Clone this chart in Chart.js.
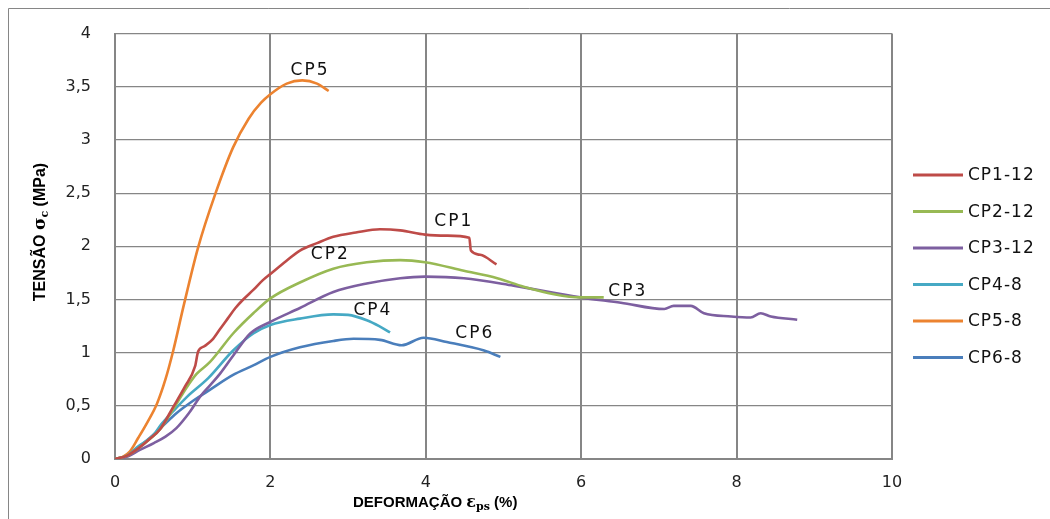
<!DOCTYPE html>
<html>
<head>
<meta charset="utf-8">
<script src="https://cdn.jsdelivr.net/npm/chart.js@4/dist/chart.umd.min.js"></script>
<style>
  html, body { margin: 0; padding: 0; background: #fff; }
  #wrap { width: 1050px; height: 519px; }
</style>
</head>
<body>
<div id="wrap"><canvas id="tensionChart"></canvas></div>
<script>
// Séries: deformação (%) e tensão (MPa)
const seriesNames = ['CP1-12', 'CP2-12', 'CP3-12', 'CP4-8', 'CP5-8', 'CP6-8'];

const cp1X = [0, 0.15, 0.3, 0.45, 0.58, 0.75, 0.9, 1.03, 1.07, 1.15, 1.25, 1.35, 1.45, 1.55, 1.65, 1.78, 1.9, 2.0, 2.2, 2.38, 2.6, 2.81, 3.1, 3.41, 3.67, 3.99, 4.27, 4.56, 4.58, 4.7, 4.91];
const cp1Y = [0, 0.03, 0.1, 0.19, 0.28, 0.49, 0.68, 0.87, 1.01, 1.06, 1.12, 1.22, 1.32, 1.42, 1.5, 1.59, 1.68, 1.74, 1.86, 1.96, 2.03, 2.09, 2.13, 2.16, 2.15, 2.11, 2.1, 2.08, 1.96, 1.92, 1.83];

const cp2X = [0, 0.15, 0.3, 0.45, 0.58, 0.75, 0.92, 1.05, 1.22, 1.52, 1.78, 2.0, 2.38, 2.81, 3.24, 3.67, 3.99, 4.49, 4.92, 5.26, 5.65, 5.99, 6.29];
const cp2Y = [0, 0.03, 0.1, 0.19, 0.28, 0.47, 0.67, 0.8, 0.91, 1.18, 1.37, 1.51, 1.66, 1.79, 1.85, 1.87, 1.85, 1.77, 1.7, 1.62, 1.55, 1.52, 1.52];

const cp3X = [0, 0.15, 0.32, 0.5, 0.65, 0.79, 0.95, 1.1, 1.22, 1.35, 1.52, 1.74, 2.0, 2.38, 2.81, 3.24, 3.67, 3.99, 4.49, 5.13, 5.99, 6.51, 7.07, 7.19, 7.41, 7.58, 7.93, 8.18, 8.31, 8.44, 8.78];
const cp3Y = [0, 0.02, 0.085, 0.15, 0.21, 0.29, 0.43, 0.59, 0.69, 0.8, 0.97, 1.18, 1.29, 1.42, 1.57, 1.65, 1.7, 1.715, 1.7, 1.63, 1.52, 1.47, 1.41, 1.44, 1.44, 1.37, 1.34, 1.33, 1.37, 1.34, 1.31];

const cp4X = [0, 0.15, 0.3, 0.49, 0.6, 0.75, 0.92, 1.2, 1.52, 1.78, 2.0, 2.38, 2.81, 3.0, 3.24, 3.4, 3.54];
const cp4Y = [0, 0.03, 0.12, 0.22, 0.33, 0.45, 0.58, 0.76, 1.02, 1.18, 1.26, 1.32, 1.36, 1.355, 1.305, 1.25, 1.19];

const cp5X = [0, 0.1, 0.19, 0.3, 0.42, 0.54, 0.65, 0.75, 0.88, 1.07, 1.29, 1.52, 1.72, 1.88, 2.0, 2.21, 2.41, 2.6, 2.75];
const cp5Y = [0, 0.02, 0.07, 0.2, 0.35, 0.52, 0.75, 1.02, 1.43, 1.99, 2.49, 2.93, 3.2, 3.35, 3.43, 3.53, 3.56, 3.53, 3.46];

const cp6X = [0, 0.15, 0.3, 0.45, 0.6, 0.79, 1.01, 1.22, 1.52, 1.78, 2.0, 2.38, 2.81, 3.07, 3.41, 3.69, 3.97, 4.27, 4.75, 4.96];
const cp6Y = [0, 0.03, 0.11, 0.2, 0.3, 0.43, 0.55, 0.65, 0.79, 0.88, 0.96, 1.05, 1.11, 1.13, 1.12, 1.07, 1.14, 1.1, 1.02, 0.96];

const xTickLabels = ['0', '2', '4', '6', '8', '10'];
const yTickLabels = ['0', '0,5', '1', '1,5', '2', '2,5', '3', '3,5', '4'];

// Rótulos no gráfico (posição em coordenadas dos dados)
const curveLabels = ['CP1', 'CP2', 'CP3', 'CP4', 'CP5', 'CP6'];
const curveLabelX = [4.36, 2.77, 6.6, 3.32, 2.51, 4.63];
const curveLabelY = [2.23, 1.92, 1.57, 1.4, 3.65, 1.18];

const colors = ['#BE4B48', '#98B954', '#7D5FA0', '#46A9C4', '#EC8330', '#4A7EBB'];

const xs = [cp1X, cp2X, cp3X, cp4X, cp5X, cp6X];
const ys = [cp1Y, cp2Y, cp3Y, cp4Y, cp5Y, cp6Y];

const datasets = seriesNames.map((name, i) => ({
  label: name,
  data: xs[i].map((x, j) => ({ x: x, y: ys[i][j] })),
  borderColor: colors[i],
  backgroundColor: colors[i],
  borderWidth: 2.6,
  pointRadius: 0,
  showLine: true,
  cubicInterpolationMode: 'monotone',
  fill: false,
}));

const GRAY = '#868686';

const extras = {
  id: 'extras',
  beforeDraw(chart) {
    const ctx = chart.ctx;
    ctx.save();
    ctx.strokeStyle = GRAY;
    ctx.lineWidth = 1;
    ctx.beginPath();
    ctx.moveTo(8.5, 519);
    ctx.lineTo(8.5, 8.5);
    ctx.lineTo(1050, 8.5);
    ctx.stroke();
    ctx.restore();
  },
  afterDraw(chart) {
    const ctx = chart.ctx;
    const sx = chart.scales.x, sy = chart.scales.y;
    ctx.save();
    ctx.fillStyle = '#111';
    ctx.textAlign = 'center';
    ctx.textBaseline = 'middle';
    ctx.font = '17px "DejaVu Sans"';
    ctx.letterSpacing = '2px';
    curveLabels.forEach((t, i) => {
      ctx.fillText(t, sx.getPixelForValue(curveLabelX[i]), sy.getPixelForValue(curveLabelY[i]));
    });

    // legenda
    ctx.textAlign = 'left';
    ctx.letterSpacing = '1px';
    chart.data.datasets.forEach((ds, i) => {
      const y = 175 + i * 36.5;
      ctx.strokeStyle = ds.borderColor;
      ctx.lineWidth = 3;
      ctx.beginPath();
      ctx.moveTo(913, y);
      ctx.lineTo(963, y);
      ctx.stroke();
      ctx.fillStyle = '#111';
      ctx.fillText(ds.label, 968, y + 1);
    });
    ctx.letterSpacing = '0px';

    // título eixo x
    ctx.fillStyle = '#000';
    ctx.textBaseline = 'alphabetic';
    let x = 353;
    const base = 507;
    ctx.font = 'bold 15px "Liberation Sans"';
    ctx.fillText('DEFORMAÇÃO ', x, base);
    x += ctx.measureText('DEFORMAÇÃO ').width;
    ctx.font = 'bold 16px "DejaVu Serif"';
    ctx.fillText('ε', x, base);
    x += ctx.measureText('ε').width;
    ctx.font = 'bold 11px "DejaVu Serif"';
    ctx.fillText('ps', x, base + 3);
    x += ctx.measureText('ps').width;
    ctx.font = 'bold 15px "Liberation Sans"';
    ctx.fillText(' (%)', x, base);

    // título eixo y
    ctx.translate(45, 0);
    ctx.rotate(-Math.PI / 2);
    const parts = [
      ['TENSÃO ', 'bold 16px "Liberation Sans"', 0],
      ['σ', 'bold 17px "DejaVu Serif"', 0],
      ['c', 'bold 11px "DejaVu Serif"', 3],
      [' (MPa)', 'bold 16px "Liberation Sans"', 0],
    ];
    let total = 0;
    parts.forEach(p => { ctx.font = p[1]; total += ctx.measureText(p[0]).width; });
    let px = -232 - total / 2;
    parts.forEach(p => {
      ctx.font = p[1];
      ctx.fillText(p[0], px, p[2]);
      px += ctx.measureText(p[0]).width;
    });
    ctx.restore();
  }
};

new Chart(document.getElementById('tensionChart'), {
  type: 'scatter',
  data: { datasets: datasets },
  options: {
    responsive: true,
    maintainAspectRatio: false,
    animation: false,
    layout: { padding: { top: 33, right: 158, left: 0, bottom: 0 } },
    plugins: {
      legend: { display: false },
      tooltip: { enabled: false },
    },
    scales: {
      x: {
        type: 'linear',
        min: 0,
        max: 10,
        afterFit(scale) { scale.height = 60; },
        ticks: {
          stepSize: 2,
          padding: 14,
          color: '#222',
          font: { family: 'DejaVu Sans', size: 16 },
          callback: (v, i) => xTickLabels[i],
        },
        grid: { color: GRAY, lineWidth: 2, drawTicks: false },
        border: { color: GRAY, width: 2 },
      },
      y: {
        type: 'linear',
        min: 0,
        max: 4,
        afterFit(scale) { scale.width = 115; },
        ticks: {
          stepSize: 0.5,
          padding: 24,
          color: '#222',
          font: { family: 'DejaVu Sans', size: 16 },
          callback: (v, i) => yTickLabels[i],
        },
        grid: { color: GRAY, lineWidth: 1.2, drawTicks: false },
        border: { color: GRAY, width: 2 },
      },
    },
  },
  plugins: [extras],
});
</script>
</body>
</html>
